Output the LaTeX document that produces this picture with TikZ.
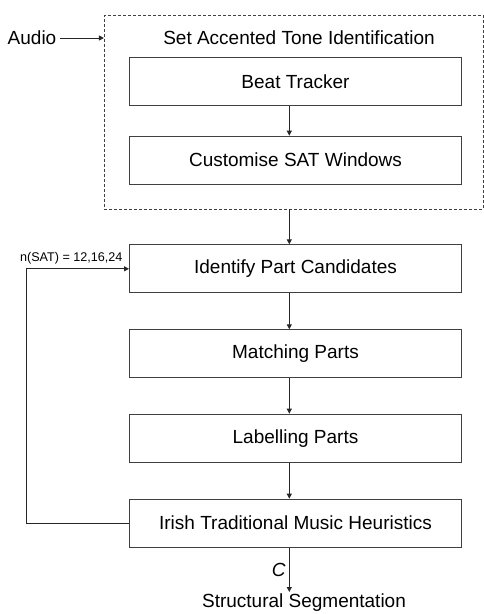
\documentclass[tikz,border=0pt]{standalone}
\usepackage{fontspec}
\setmainfont{Liberation Sans}
\usepackage{tikz}
\usetikzlibrary{arrows.meta,positioning}

\tikzset{
  procbox/.style={draw=black!75,line width=1pt,minimum width=332pt,minimum height=48pt,inner sep=0pt},
  flow/.style={draw=black!85,line width=0.9pt,-{Triangle[width=5pt,length=5pt]}},
  bigtext/.style={font=\fontsize{19}{22}\selectfont},
  smalltext/.style={font=\fontsize{12.6}{15}\selectfont}
}

\begin{document}
\begin{tikzpicture}[x=1pt,y=-1pt,bigtext]
        \useasboundingbox (0,0) rectangle (484,614);
        \def\bx{295.5}
        % outer dashed frame for the SAT stage
        \node[draw=black!75,line width=0.8pt,dash pattern=on 3pt off 2pt,
              minimum width=378.7pt,minimum height=194pt,inner sep=0pt] (sat) at (293.7,112) {};
        \node (sattitle) at (299,38) {Set Accented Tone Identification};
        \node (audio) at (32,38) {Audio};
        \coordinate (spine) at (289.3,0);
        % process boxes
        \foreach \n/\y/\t in {beat/81.3/Beat Tracker,cust/160.2/Customise SAT Windows,
                              idp/268.8/Identify Part Candidates,match/353.8/Matching Parts,
                              label/438.2/Labelling Parts,irish/523.2/Irish Traditional Music Heuristics}
          \node[procbox] (\n) at (\bx,\y) {\t};
        \node (segm) at (304,603) {Structural Segmentation};
        \coordinate (segtop) at (289.3,592);
        % connectors
        \draw[flow] (audio) -- (sat.west |- audio);
        \foreach \a/\b in {beat/cust,idp/match,match/label,label/irish}
          \draw[flow] (\a.south -| spine) -- (\b.north -| spine);
        \draw[flow] (sat.south -| spine) -- (idp.north -| spine);
        \draw[flow] (irish.south -| spine) -- node[left,font=\fontsize{19}{22}\selectfont\itshape] {C} (segtop);
        % feedback loop
        \coordinate (fb) at (26,0);
        \draw[flow] (irish.west) -- (irish.west -| fb) -- (idp.west -| fb) -- (idp.west);
        \node[smalltext,anchor=east] (nsat) at (126,258) {n(SAT) = 12,16,24};
      \end{tikzpicture}
\end{document}
